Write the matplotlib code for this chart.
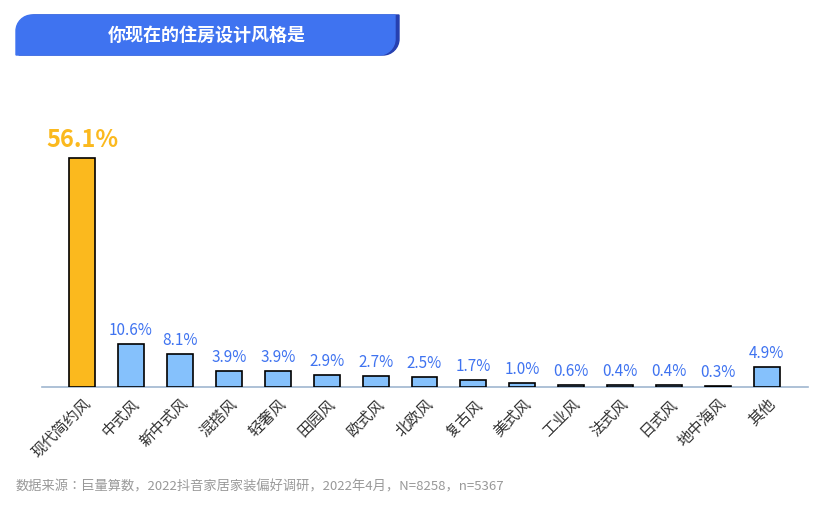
import matplotlib
matplotlib.use("Agg")
import matplotlib.pyplot as plt
from matplotlib import font_manager as fm
from matplotlib.patches import PathPatch
from matplotlib.path import Path
from matplotlib.transforms import Affine2D

fam = "Noto Sans CJK SC"
names = {f.name for f in fm.fontManager.ttflist}
if fam not in names:
    import glob
    for p in glob.glob("/usr/share/fonts/**/*CJK*", recursive=True):
        try:
            fm.fontManager.addfont(p)
        except Exception:
            pass
    names = {f.name for f in fm.fontManager.ttflist}
    cands = [n for n in names if "CJK" in n]
    if fam not in names and cands:
        fam = sorted(cands)[0]
plt.rcParams["font.family"] = [fam, "DejaVu Sans"]

categories = ["现代简约风","中式风","新中式风","混搭风","轻奢风","田园风","欧式风","北欧风","复古风","美式风","工业风","法式风","日式风","地中海风","其他"]
values = [56.1,10.6,8.1,3.9,3.9,2.9,2.7,2.5,1.7,1.0,0.6,0.4,0.4,0.3,4.9]
labels = ["56.1%","10.6%","8.1%","3.9%","3.9%","2.9%","2.7%","2.5%","1.7%","1.0%","0.6%","0.4%","0.4%","0.3%","4.9%"]

W, H = 823, 508
fig = plt.figure(figsize=(W/100, H/100), dpi=100)

# pixel transform (y downward)
pix = Affine2D().scale(1/W, -1/H).translate(0, 1) + fig.transFigure

def banner(x0, x1, y0, y1, r):
    k = 0.45
    verts = [(x0, y1), (x0, y0 + r), (x0, y0 + r*k), (x0 + r*k, y0), (x0 + r, y0),
             (x1, y0), (x1, y1 - r), (x1, y1 - r*k), (x1 - r*k, y1), (x1 - r, y1), (x0, y1)]
    codes = [Path.MOVETO, Path.LINETO, Path.CURVE4, Path.CURVE4, Path.CURVE4,
             Path.LINETO, Path.LINETO, Path.CURVE4, Path.CURVE4, Path.CURVE4, Path.CLOSEPOLY]
    return Path(verts, codes)

fig.patches.append(PathPatch(banner(19, 399, 15, 55, 16), transform=pix, color="#2640b0", zorder=1))
fig.patches.append(PathPatch(banner(16, 395, 15, 55, 16), transform=pix, color="#3f73f0", zorder=2))
fig.text(207/W, 1-35/H, "你现在的住房设计风格是", color="white", fontsize=13, fontweight="bold",
         ha="center", va="center", zorder=3)

ax = fig.add_axes([42/W, (H-387)/H, 766/W, 245/H])
x = list(range(len(values)))
colors = ["#fbb91e"] + ["#85c1fc"]*(len(values)-1)
ax.bar(x, values, width=0.53, color=colors, edgecolor="black", linewidth=1.2, zorder=3)
ax.set_xlim(-0.82, 14.84)
ax.set_ylim(0, 60)
for i, (v, l) in enumerate(zip(values, labels)):
    if i == 0:
        ax.text(i, v+1.5, l, ha="center", va="bottom", color="#fbb91e", fontsize=17, fontweight="bold")
    else:
        ax.text(i, v+1.2, l, ha="center", va="bottom", color="#3f73f0", fontsize=11)
for s in ["top","right","left"]:
    ax.spines[s].set_visible(False)
ax.spines["bottom"].set_color("#9fb6d0")
ax.spines["bottom"].set_linewidth(1.2)
ax.set_yticks([])
ax.set_xticks(x)
ax.set_xticklabels(categories, rotation=45, ha="right", rotation_mode="anchor", fontsize=11, color="#333333")
ax.tick_params(axis="x", length=0, pad=6)

fig.text(16/W, 1-487/H, "数据来源：巨量算数，2022抖音家居家装偏好调研，2022年4月，N=8258，n=5367",
         fontsize=9.5, color="#999999", ha="left", va="center")

fig.savefig("out.png", dpi=100)
